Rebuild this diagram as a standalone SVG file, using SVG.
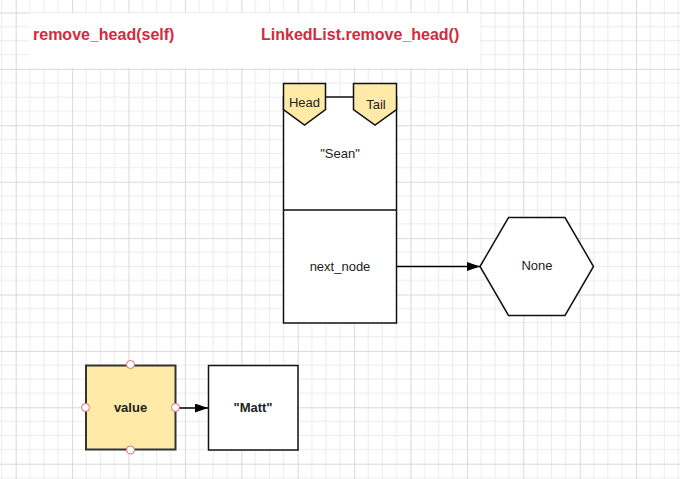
<svg xmlns="http://www.w3.org/2000/svg" width="680" height="479" viewBox="0 0 680 479">
<defs>
<pattern id="grid" patternUnits="userSpaceOnUse" x="15.7" y="12.5" width="56.4" height="56.4">
<path d="M14.1,0V56.4M28.2,0V56.4M42.3,0V56.4M0,14.1H56.4M0,28.2H56.4M0,42.3H56.4" stroke="#ebebeb" stroke-width="1" fill="none"/>
<path d="M0.5,0V56.4M0,0.5H56.4" stroke="#d9d9d9" stroke-width="1" fill="none"/>
</pattern>
<marker id="arr" markerUnits="userSpaceOnUse" markerWidth="14" markerHeight="10" refX="13" refY="4.5" orient="auto">
<path d="M0,0L13,4.5L0,9z" fill="#000"/>
</marker>
<style>
.title{font-family:"Liberation Sans",Arial,sans-serif;font-weight:bold;font-size:16px;fill:#d22b3c}
.lbl{font-family:"Liberation Sans",Arial,sans-serif;font-size:13px;fill:#222;text-anchor:middle}
.blbl{font-family:"Liberation Sans",Arial,sans-serif;font-size:13px;font-weight:bold;fill:#222;text-anchor:middle}
.box{fill:#fff;stroke:#111;stroke-width:1.5}
.tag{fill:#ffeaa7;stroke:#111;stroke-width:1.5}
.conn{stroke:#000;stroke-width:1.5;fill:none;marker-end:url(#arr)}
.pt{fill:#fff;stroke:#e36a78;stroke-width:1}
</style>
</defs>
<rect width="680" height="479" fill="#fff"/>
<rect width="680" height="479" fill="url(#grid)"/>
<g id="header">
<rect x="29" y="13" width="451" height="55" fill="#fff"/>
<text class="title" x="33" y="39.5">remove_head(self)</text>
<text class="title" x="261" y="39.5">LinkedList.remove_head()</text>
</g>
<g id="node-sean">
<rect class="box" x="283.5" y="97" width="113" height="226"/>
<line x1="283.5" y1="210" x2="396.5" y2="210" stroke="#111" stroke-width="1.5"/>
<text class="lbl" x="340" y="158">"Sean"</text>
<text class="lbl" x="340" y="271">next_node</text>
</g>
<g id="tag-head">
<polygon class="tag" points="283.5,83.5 325.5,83.5 325.5,109.5 304.5,125 283.5,109.5"/>
<text class="lbl" x="304.5" y="106.5">Head</text>
</g>
<g id="tag-tail">
<polygon class="tag" points="353.5,83.5 396.5,83.5 396.5,109.5 375,125 353.5,109.5"/>
<text class="lbl" x="376" y="108.5">Tail</text>
</g>
<g id="node-none">
<polygon class="box" points="480,266.5 508.5,217.5 565,217.5 593.5,266.5 565,315.5 508.5,315.5"/>
<text class="lbl" x="537" y="270">None</text>
</g>
<g id="node-value">
<rect class="tag" x="86" y="365.5" width="89.5" height="84" style="stroke:#333;stroke-width:2"/>
<text class="blbl" x="130.5" y="412">value</text>
<circle class="pt" cx="130.5" cy="364.5" r="4"/>
<circle class="pt" cx="85.5" cy="407.5" r="4"/>
<circle class="pt" cx="175.5" cy="407.5" r="4"/>
<circle class="pt" cx="130.5" cy="450" r="4"/>
</g>
<g id="node-matt">
<rect class="box" x="208.5" y="365.5" width="89.5" height="84.5"/>
<text class="blbl" x="253" y="412">"Matt"</text>
</g>
<g id="connectors">
<line class="conn" x1="397" y1="266.5" x2="480" y2="266.5"/>
<line class="conn" x1="179.5" y1="408" x2="208" y2="408"/>
</g>
</svg>
